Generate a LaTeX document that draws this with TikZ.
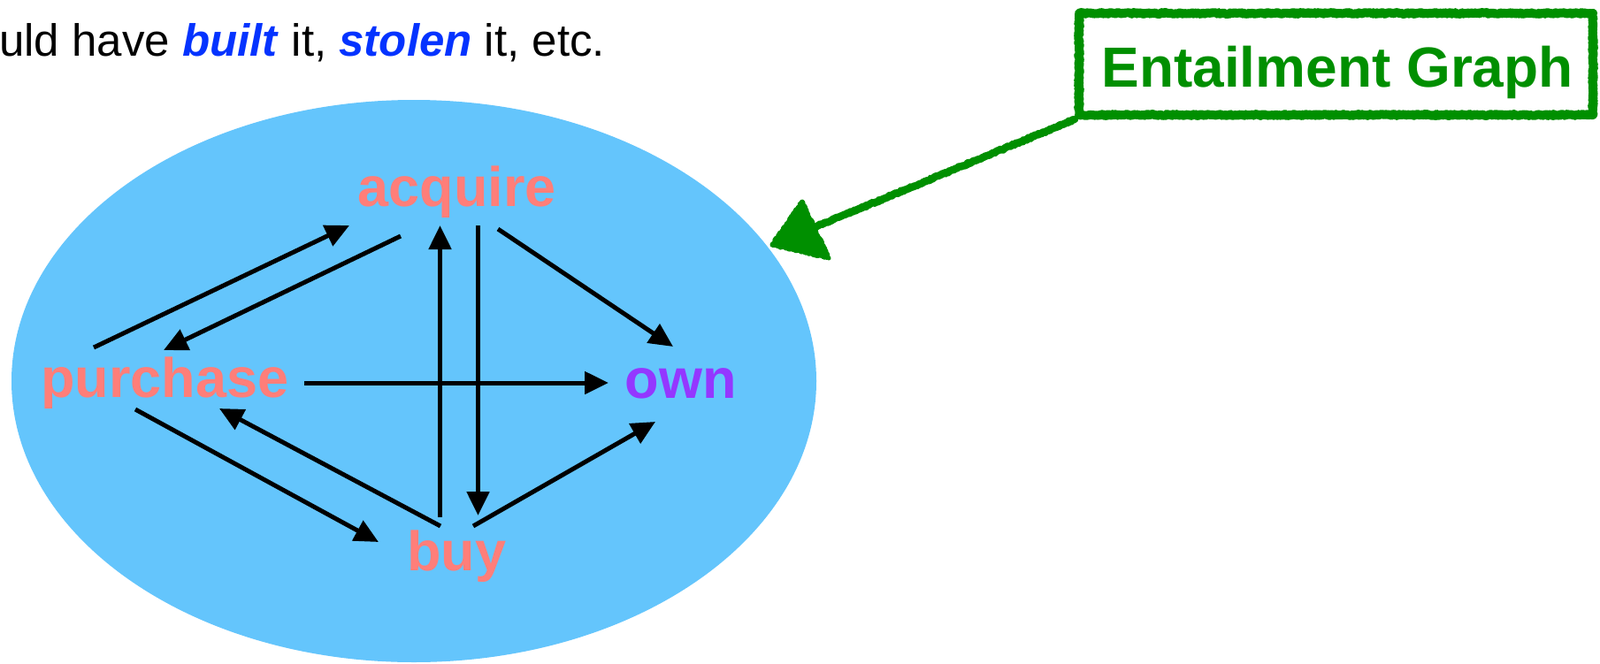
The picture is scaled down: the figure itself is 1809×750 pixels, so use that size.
\documentclass[tikz,border=0pt]{standalone}
\usepackage{fontspec}
\setmainfont{Liberation Sans}
\usetikzlibrary{arrows.meta,calc,decorations.pathmorphing}
\definecolor{sky}{RGB}{100,197,252}
\definecolor{salmon}{RGB}{255,126,121}
\definecolor{grape}{RGB}{148,55,255}
\definecolor{egreen}{RGB}{0,143,0}
\definecolor{eblue}{RGB}{4,51,255}
\begin{document}
\begin{tikzpicture}[x=1pt,y=-1pt,
  word/.style={font=\fontsize{63}{63}\selectfont\bfseries, inner sep=0pt, anchor=base},
  arr/.style={line width=5pt, -{Triangle[length=27pt,width=25pt]}},
  rough/.style={draw=egreen, line width=10pt, line join=round, line cap=round, decorate,
    decoration={random steps, segment length=1.5pt, amplitude=0.9pt}}]
\useasboundingbox (0,0) rectangle (1809,750);
\fill[white] (0,0) rectangle (1809,750);
% blue set
\fill[sky] (468,431) ellipse [x radius=455, y radius=318];
% top line
\node[anchor=base west, inner sep=0pt, font=\fontsize{51}{51}\selectfont] (line) at (-1,63)
  {uld have \textcolor{eblue}{\textbf{\textit{built}}} it, \textcolor{eblue}{\textbf{\textit{stolen}}} it, etc.};
% words
\node[word, text=salmon] (acq) at (516.5,233) {acquire};
\node[word, text=salmon] (pur) at (186.5,449) {purchase};
\node[word, text=grape]  (own) at (769.5,450) {own};
\node[word, text=salmon] (buy) at (516.5,645) {buy};
% edges
\draw[arr] ([shift={(-80.5,-56)}]pur.base) -- ([shift={(-121.5,22)}]acq.base);
\draw[arr] ([shift={(-63.5,34)}]acq.base) -- ([shift={(-1.5,-53)}]pur.base);
\draw[arr] ([shift={(-19,-60)}]buy.base) -- ([shift={(-19,22)}]acq.base);
\draw[arr] ([shift={(24,22)}]acq.base) -- ([shift={(24,-62)}]buy.base);
\draw[arr] ([shift={(46.5,26)}]acq.base) -- ([shift={(-8.5,-58)}]own.base);
\draw[arr] ([shift={(157.5,-16)}]pur.base) -- ([shift={(-81.5,-17)}]own.base);
\draw[arr] ([shift={(-33.5,14)}]pur.base) -- ([shift={(-88.5,-32)}]buy.base);
\draw[arr] ([shift={(-18.5,-50)}]buy.base) -- ([shift={(61.5,13)}]pur.base);
\draw[arr] ([shift={(18.5,-50)}]buy.base) -- ([shift={(-28.5,27)}]own.base);
% callout
\node[rough, minimum width=581pt, minimum height=115pt, inner sep=0pt] (egbox) at (1510.5,72.5) {};
\node[anchor=base, inner sep=0pt, text=egreen, font=\fontsize{64}{64}\selectfont\bfseries] (eg) at (1512,98) {Entailment Graph};
\coordinate (tip) at (873,277);
\draw[rough, line width=8.5pt] (egbox.south west) -- ($(tip)!45pt!(egbox.south west)$);
\filldraw[rough, fill=egreen, line width=5pt] (tip) -- ++(34,-49) -- ++(30,64) -- cycle;
\end{tikzpicture}
\end{document}
